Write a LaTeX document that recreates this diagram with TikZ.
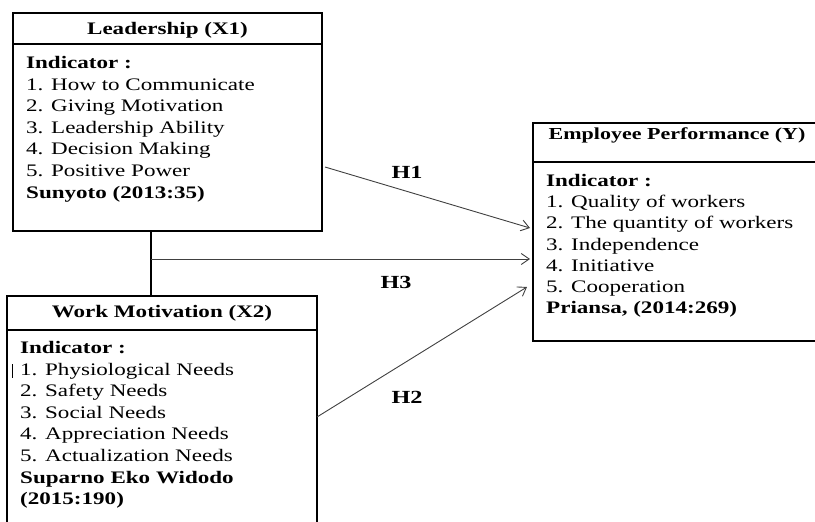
\documentclass[tikz,border=0pt]{standalone}
\usepackage{fontspec}
\setmainfont{Liberation Serif}[FakeStretch=1.31]
\usetikzlibrary{arrows.meta, positioning}
\tikzset{
	block/.style={draw, line width=1.4pt, outer sep=0pt},
	divider/.style={line width=1.4pt},
	hyp/.style={draw=black!75, line width=0.9pt, -{Straight Barb[length=8pt, width=11pt, line width=0.9pt]}},
	items/.style={align=left, inner sep=0pt, anchor=north west, font=\fontsize{17.6}{21.6}\selectfont},
	head/.style={inner sep=0pt, font=\fontsize{17.6}{21.6}\selectfont\bfseries},
	hlabel/.style={inner sep=0pt, font=\fontsize{18.5}{21.6}\selectfont\bfseries}
}
\begin{document}
\begin{tikzpicture}[x=1pt, y=-1pt]
		\useasboundingbox (0,0) rectangle (815,522);
		\clip (0,0) rectangle (815,522);
		
		\node[block, minimum width=309pt, minimum height=218pt] (lead) at (167.5,122) {};
		\draw[divider] (lead.west |- 0,44) -- (lead.east |- 0,44);
		\node[head] (leadhead) at (167.5,30) {Leadership (X1)};
		\node[items] (leadtext) at (26,56) {\textbf{Indicator :} \\ 1. How to Communicate \\ 2. Giving Motivation \\ 3. Leadership Ability \\ 4. Decision Making \\ 5. Positive Power \\ \textbf{Sunyoto (2013:35)}};
		
		\node[block, minimum width=310pt, minimum height=264pt] (mot) at (162,428) {};
		\draw[divider] (mot.west |- 0,330) -- (mot.east |- 0,330);
		\node[head] (mothead) at (162,313) {Work Motivation (X2)};
		\node[items] (mottext) at (20,341) {\textbf{Indicator :} \\ 1. Physiological Needs \\ 2. Safety Needs \\ 3. Social Needs \\ 4. Appreciation Needs \\ 5. Actualization Needs \\ \textbf{Suparno Eko Widodo} \\ \textbf{(2015:190)}};
		\draw[line width=1pt] (12.5,364) -- (12.5,378);
		
		\node[block, minimum width=290pt, minimum height=218pt] (perf) at (678,232) {};
		\draw[divider] (perf.west |- 0,162) -- (perf.east |- 0,162);
		\node[head, font=\fontsize{16.8}{20}\selectfont\bfseries] (perfhead) at (677,135) {Employee Performance (Y)};
		\node[items, font=\fontsize{17.6}{21.2}\selectfont] (perftext) at (546,174) {\textbf{Indicator :} \\ 1. Quality of workers \\ 2. The quantity of workers \\ 3. Independence \\ 4. Initiative \\ 5. Cooperation \\ \textbf{Priansa, (2014:269)}};
		
		% hypotheses
		\coordinate (link) at (151,259);
		\coordinate (hfrom) at (325,167);
		\coordinate (hto) at (530,228);
		\coordinate (mfrom) at (mot.east |- 0,417);
		\coordinate (mto) at (527,287);
		
		\draw[line width=1.1pt] (link |- lead.south) -- (link |- mot.north);
		\draw[hyp] (link) -- ([xshift=-3pt]perf.west |- link);
		\draw[hyp] (hfrom) -- (hto);
		\draw[hyp] (mfrom) -- (mto);
		
		\node[hlabel] (hone) at (407,172) {H1};
		\node[hlabel] (hthree) at (396,282) {H3};
		\node[hlabel] (htwo) at (407,397) {H2};
	\end{tikzpicture}
\end{document}
